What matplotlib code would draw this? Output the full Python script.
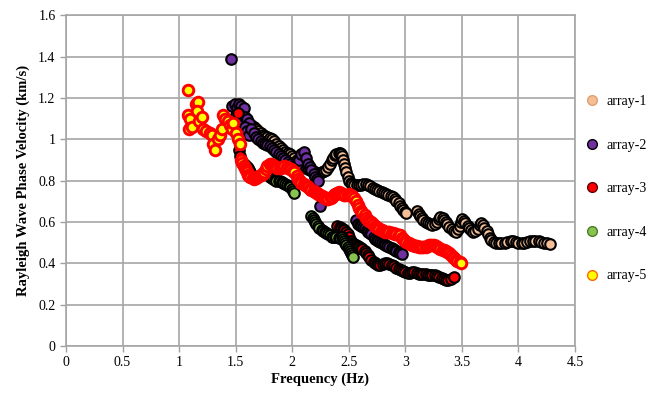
import matplotlib.pyplot as plt
from matplotlib.lines import Line2D

# array-1 (frequency Hz, phase velocity km/s)
a1_x = [1.64, 1.66, 1.68, 1.70, 1.72, 1.74, 1.76, 1.78, 1.80, 1.82, 1.84, 1.86, 1.88, 1.90,
        1.92, 1.94, 1.96, 1.98, 2.00, 2.02, 2.04, 2.06, 2.08, 2.10, 2.12, 2.14, 2.16, 2.18,
        2.20, 2.22, 2.24, 2.26, 2.28, 2.30, 2.32, 2.33, 2.35, 2.36, 2.38, 2.39, 2.41, 2.42,
        2.43, 2.44, 2.45, 2.46, 2.47, 2.48, 2.49, 2.50, 2.52, 2.53, 2.55, 2.57, 2.59, 2.61,
        2.63, 2.65, 2.67, 2.69, 2.71, 2.73, 2.75, 2.77, 2.79, 2.81, 2.83, 2.85, 2.87, 2.89,
        2.91, 2.92, 2.94, 2.95, 2.97, 2.98, 3.00, 3.01,
        3.10, 3.12, 3.13, 3.15, 3.16, 3.18, 3.20, 3.22, 3.24, 3.26, 3.28, 3.30, 3.31, 3.33,
        3.34, 3.36, 3.37, 3.39, 3.41, 3.43, 3.45, 3.47, 3.48, 3.49, 3.50, 3.52, 3.53, 3.55,
        3.56, 3.58, 3.60, 3.62, 3.64, 3.66, 3.67, 3.69, 3.70, 3.72, 3.73, 3.75, 3.76, 3.78,
        3.80, 3.83, 3.85, 3.88, 3.90, 3.93, 3.95, 3.98, 4.00, 4.03, 4.05, 4.08, 4.10, 4.13,
        4.15, 4.18, 4.20, 4.23, 4.25, 4.28]
a1_y = [1.07, 1.06, 1.05, 1.04, 1.03, 1.02, 1.015, 1.01, 1.005, 1.00, 0.99, 0.98, 0.97, 0.96,
        0.95, 0.94, 0.935, 0.93, 0.92, 0.91, 0.90, 0.89, 0.88, 0.87, 0.86, 0.855, 0.85, 0.845,
        0.84, 0.835, 0.835, 0.84, 0.845, 0.85, 0.865, 0.88, 0.90, 0.91, 0.925, 0.93, 0.935, 0.935,
        0.93, 0.92, 0.90, 0.88, 0.86, 0.84, 0.82, 0.80, 0.79, 0.785, 0.78, 0.78, 0.78, 0.78,
        0.785, 0.785, 0.78, 0.775, 0.765, 0.76, 0.755, 0.75, 0.745, 0.74, 0.735, 0.73, 0.725, 0.72,
        0.71, 0.70, 0.69, 0.68, 0.67, 0.66, 0.65, 0.645,
        0.655, 0.64, 0.63, 0.62, 0.61, 0.60, 0.595, 0.59, 0.585, 0.59, 0.60, 0.615, 0.625, 0.62,
        0.61, 0.60, 0.59, 0.575, 0.565, 0.555, 0.55, 0.565, 0.58, 0.60, 0.615, 0.605, 0.595, 0.58,
        0.57, 0.56, 0.55, 0.555, 0.565, 0.585, 0.595, 0.585, 0.57, 0.555, 0.54, 0.525, 0.515, 0.505,
        0.50, 0.50, 0.50, 0.50, 0.505, 0.51, 0.51, 0.505, 0.50, 0.50, 0.50, 0.505, 0.51, 0.51,
        0.51, 0.51, 0.505, 0.50, 0.50, 0.495]

# array-2
a2_x = [1.46, 1.47, 1.49, 1.51, 1.53, 1.55, 1.57, 1.50, 1.52, 1.54, 1.56, 1.58, 1.60, 1.62,
        1.58, 1.60, 1.62, 1.64, 1.66, 1.68, 1.70, 1.72, 1.74, 1.76, 1.78, 1.80, 1.82, 1.84,
        1.86, 1.88, 1.90, 1.92, 1.94, 1.96, 1.98, 2.00, 2.02, 2.04, 2.06, 2.08, 2.10, 2.12,
        2.14, 2.16, 2.17, 2.19, 2.20, 2.22, 2.23, 2.25,
        2.56, 2.58, 2.60, 2.61, 2.63, 2.64, 2.66, 2.67, 2.69, 2.70, 2.72, 2.73, 2.75, 2.76,
        2.78, 2.79, 2.81, 2.82, 2.84, 2.86, 2.88, 2.89, 2.91, 2.92, 2.94, 2.95, 2.97]
a2_y = [1.39, 1.16, 1.17, 1.15, 1.17, 1.16, 1.15, 1.12, 1.10, 1.12, 1.09, 1.11, 1.10, 1.08,
        1.06, 1.04, 1.02, 1.05, 1.03, 1.01, 1.00, 0.99, 0.985, 0.98, 0.975, 0.97, 0.96, 0.95,
        0.94, 0.93, 0.92, 0.91, 0.90, 0.89, 0.88, 0.87, 0.87, 0.88, 0.90, 0.93, 0.94, 0.91,
        0.88, 0.865, 0.85, 0.835, 0.82, 0.81, 0.80, 0.68,
        0.61, 0.59, 0.585, 0.58, 0.575, 0.57, 0.56, 0.55, 0.545, 0.54, 0.53, 0.52, 0.515, 0.51,
        0.505, 0.50, 0.495, 0.49, 0.485, 0.48, 0.475, 0.47, 0.465, 0.46, 0.455, 0.45, 0.445]

# array-3
a3_x = [1.52, 1.53, 1.54, 1.55, 1.56, 1.57, 1.58, 1.59, 1.60, 1.61, 1.62, 1.63,
        2.40, 2.42, 2.43, 2.45, 2.46, 2.48, 2.49, 2.50, 2.52, 2.53, 2.55, 2.56, 2.58, 2.59,
        2.61, 2.62, 2.64, 2.65, 2.67, 2.68, 2.70, 2.72, 2.73, 2.75, 2.76, 2.78, 2.80, 2.82,
        2.84, 2.86, 2.88, 2.90, 2.92, 2.94, 2.96, 2.98, 3.00, 3.02, 3.04, 3.06, 3.08, 3.10,
        3.12, 3.14, 3.16, 3.18, 3.20, 3.22, 3.24, 3.26, 3.28, 3.30, 3.32, 3.34, 3.36, 3.38,
        3.40, 3.43]
a3_y = [1.13, 0.95, 0.92, 0.90, 0.89, 0.88, 0.875, 0.87, 0.865, 0.86, 0.85, 0.84,
        0.58, 0.575, 0.57, 0.565, 0.56, 0.55, 0.54, 0.53, 0.51, 0.50, 0.495, 0.49, 0.485, 0.48,
        0.475, 0.47, 0.46, 0.45, 0.44, 0.43, 0.415, 0.405, 0.40, 0.395, 0.39, 0.39, 0.395, 0.40,
        0.40, 0.395, 0.39, 0.385, 0.38, 0.375, 0.37, 0.365, 0.36, 0.355, 0.355, 0.36, 0.36, 0.355,
        0.35, 0.35, 0.35, 0.35, 0.345, 0.345, 0.345, 0.345, 0.34, 0.335, 0.33, 0.325, 0.32, 0.32,
        0.325, 0.335]

# array-4
a4_x = [1.80, 1.82, 1.83, 1.85, 1.86, 1.88, 1.89, 1.91, 1.92, 1.94, 1.95, 1.97, 1.98, 2.00,
        2.01, 2.02,
        2.17, 2.18, 2.19, 2.20, 2.21, 2.23, 2.24, 2.26, 2.27, 2.29, 2.30, 2.32, 2.33, 2.35,
        2.36, 2.38, 2.39, 2.41, 2.42, 2.44, 2.45, 2.46, 2.47, 2.48, 2.49, 2.50, 2.51, 2.52,
        2.53, 2.54]
a4_y = [0.82, 0.815, 0.81, 0.805, 0.80, 0.80, 0.80, 0.795, 0.79, 0.785, 0.78, 0.775, 0.77, 0.76,
        0.75, 0.74,
        0.63, 0.62, 0.61, 0.60, 0.59, 0.58, 0.57, 0.56, 0.555, 0.55, 0.545, 0.54, 0.535, 0.53,
        0.53, 0.53, 0.53, 0.525, 0.525, 0.53, 0.52, 0.51, 0.50, 0.49, 0.48, 0.47, 0.46, 0.45,
        0.44, 0.43]

# array-5
a5_x = [1.08, 1.08, 1.10, 1.09, 1.11, 1.15, 1.17, 1.16, 1.18, 1.20, 1.21, 1.24, 1.27, 1.29,
        1.30, 1.32, 1.34, 1.36, 1.38, 1.39, 1.41, 1.43, 1.45, 1.47, 1.48, 1.50, 1.52, 1.54,
        1.55, 1.56, 1.57, 1.58, 1.59, 1.60, 1.61, 1.62, 1.63, 1.65, 1.66, 1.68, 1.69, 1.71,
        1.72, 1.74, 1.75, 1.77, 1.78, 1.80, 1.81, 1.83, 1.84, 1.86, 1.87, 1.89, 1.90, 1.92,
        1.93, 1.95, 1.96, 1.98, 1.99, 2.01, 2.02, 2.04, 2.05, 2.07, 2.08, 2.10, 2.11, 2.13,
        2.14, 2.16, 2.17, 2.19, 2.20, 2.22, 2.23, 2.25, 2.26, 2.28, 2.29, 2.31, 2.32, 2.34,
        2.35, 2.37, 2.38, 2.40, 2.41, 2.43, 2.44, 2.46, 2.47, 2.49, 2.50, 2.52, 2.53, 2.55,
        2.56, 2.58, 2.59, 2.61, 2.62, 2.64, 2.65, 2.67, 2.68, 2.70, 2.71, 2.73, 2.74, 2.76,
        2.77, 2.79, 2.80, 2.82, 2.83, 2.85, 2.86, 2.88, 2.89, 2.91, 2.92, 2.94, 2.95, 2.97,
        2.98, 3.00, 3.01, 3.03, 3.04, 3.06, 3.07, 3.09, 3.10, 3.12, 3.13, 3.15, 3.16, 3.18,
        3.19, 3.21, 3.22, 3.24, 3.25, 3.27, 3.28, 3.30, 3.31, 3.33, 3.34, 3.36, 3.37, 3.39,
        3.40, 3.42, 3.43, 3.45, 3.46, 3.48, 3.49]
a5_y = [1.24, 1.12, 1.10, 1.05, 1.06, 1.17, 1.18, 1.14, 1.09, 1.11, 1.05, 1.04, 1.03, 1.02,
        0.98, 0.95, 1.00, 1.02, 1.05, 1.12, 1.10, 1.09, 1.07, 1.05, 1.08, 1.03, 1.00, 0.98,
        0.90, 0.885, 0.87, 0.86, 0.85, 0.84, 0.83, 0.825, 0.82, 0.815, 0.81, 0.815, 0.82, 0.825,
        0.83, 0.835, 0.84, 0.855, 0.87, 0.88, 0.88, 0.875, 0.87, 0.865, 0.86, 0.86, 0.86, 0.865,
        0.87, 0.865, 0.86, 0.855, 0.855, 0.845, 0.84, 0.825, 0.81, 0.80, 0.79, 0.785, 0.78, 0.775,
        0.77, 0.76, 0.755, 0.75, 0.745, 0.74, 0.735, 0.73, 0.725, 0.72, 0.715, 0.71, 0.71, 0.715,
        0.72, 0.73, 0.735, 0.74, 0.745, 0.74, 0.735, 0.73, 0.73, 0.73, 0.735, 0.73, 0.725, 0.715,
        0.70, 0.685, 0.67, 0.655, 0.645, 0.635, 0.62, 0.61, 0.605, 0.60, 0.59, 0.58, 0.575, 0.57,
        0.565, 0.56, 0.555, 0.55, 0.55, 0.55, 0.55, 0.545, 0.545, 0.54, 0.54, 0.535, 0.535, 0.525,
        0.52, 0.51, 0.505, 0.50, 0.495, 0.49, 0.49, 0.485, 0.485, 0.48, 0.48, 0.48, 0.48, 0.48,
        0.485, 0.49, 0.49, 0.49, 0.49, 0.485, 0.48, 0.475, 0.47, 0.465, 0.465, 0.46, 0.455, 0.45,
        0.44, 0.43, 0.425, 0.415, 0.41, 0.405, 0.40]

# name, x, y, face, edge, edge width, legend edge
series = [
    ('array-1', a1_x, a1_y, '#F4BE96', 'black', 1.5, '#E0A070'),
    ('array-2', a2_x, a2_y, '#7030A0', 'black', 1.5, 'black'),
    ('array-3', a3_x, a3_y, '#FF0000', 'black', 1.5, '#600000'),
    ('array-4', a4_x, a4_y, '#86C34F', 'black', 1.5, '#4E7A2A'),
    ('array-5', a5_x, a5_y, '#FFFF00', '#FF0000', 2.1, '#FF6600'),
]

plt.rcParams['font.family'] = ['Liberation Serif', 'DejaVu Serif']

fig = plt.figure(figsize=(6.5, 3.94), dpi=100)
ax = fig.add_axes([0.1015, 0.1218, 0.7831, 0.8389])

handles = []
for name, xs, ys, face, edge, lw, leg_edge in series:
    ax.scatter(xs, ys, s=58, c=face, edgecolors=edge, linewidths=lw, zorder=3)
    handles.append(Line2D([], [], linestyle='none', marker='o', markersize=7,
                          markerfacecolor=face, markeredgecolor=leg_edge,
                          markeredgewidth=1, label=name))

ax.set_xlim(0, 4.5)
ax.set_ylim(0, 1.6)
ax.set_xticks([0, 0.5, 1, 1.5, 2, 2.5, 3, 3.5, 4, 4.5])
ax.set_xticklabels(['0', '0.5', '1', '1.5', '2', '2.5', '3', '3.5', '4', '4.5'])
ax.set_yticks([0, 0.2, 0.4, 0.6, 0.8, 1, 1.2, 1.4, 1.6])
ax.set_yticklabels(['0', '0.2', '0.4', '0.6', '0.8', '1', '1.2', '1.4', '1.6'])
ax.tick_params(labelsize=10, length=4, color='#A0A0A0', width=1)
ax.grid(True, color='#A6A6A6', linewidth=1.2)
ax.set_axisbelow(True)
for sp in ax.spines.values():
    sp.set_color('#A6A6A6')
    sp.set_linewidth(1.2)

ax.set_xlabel('Frequency (Hz)', fontsize=10.5, fontweight='bold', labelpad=2)
ax.set_ylabel('Rayleigh Wave Phase Velocity (km/s)', fontsize=10.5, fontweight='bold', labelpad=6)

fig.legend(handles=handles, loc='upper left', bbox_to_anchor=(0.878, 0.79),
           frameon=False, fontsize=10, labelspacing=2.2, handletextpad=0.5,
           handlelength=1.2)

plt.savefig('out.png', dpi=100)
